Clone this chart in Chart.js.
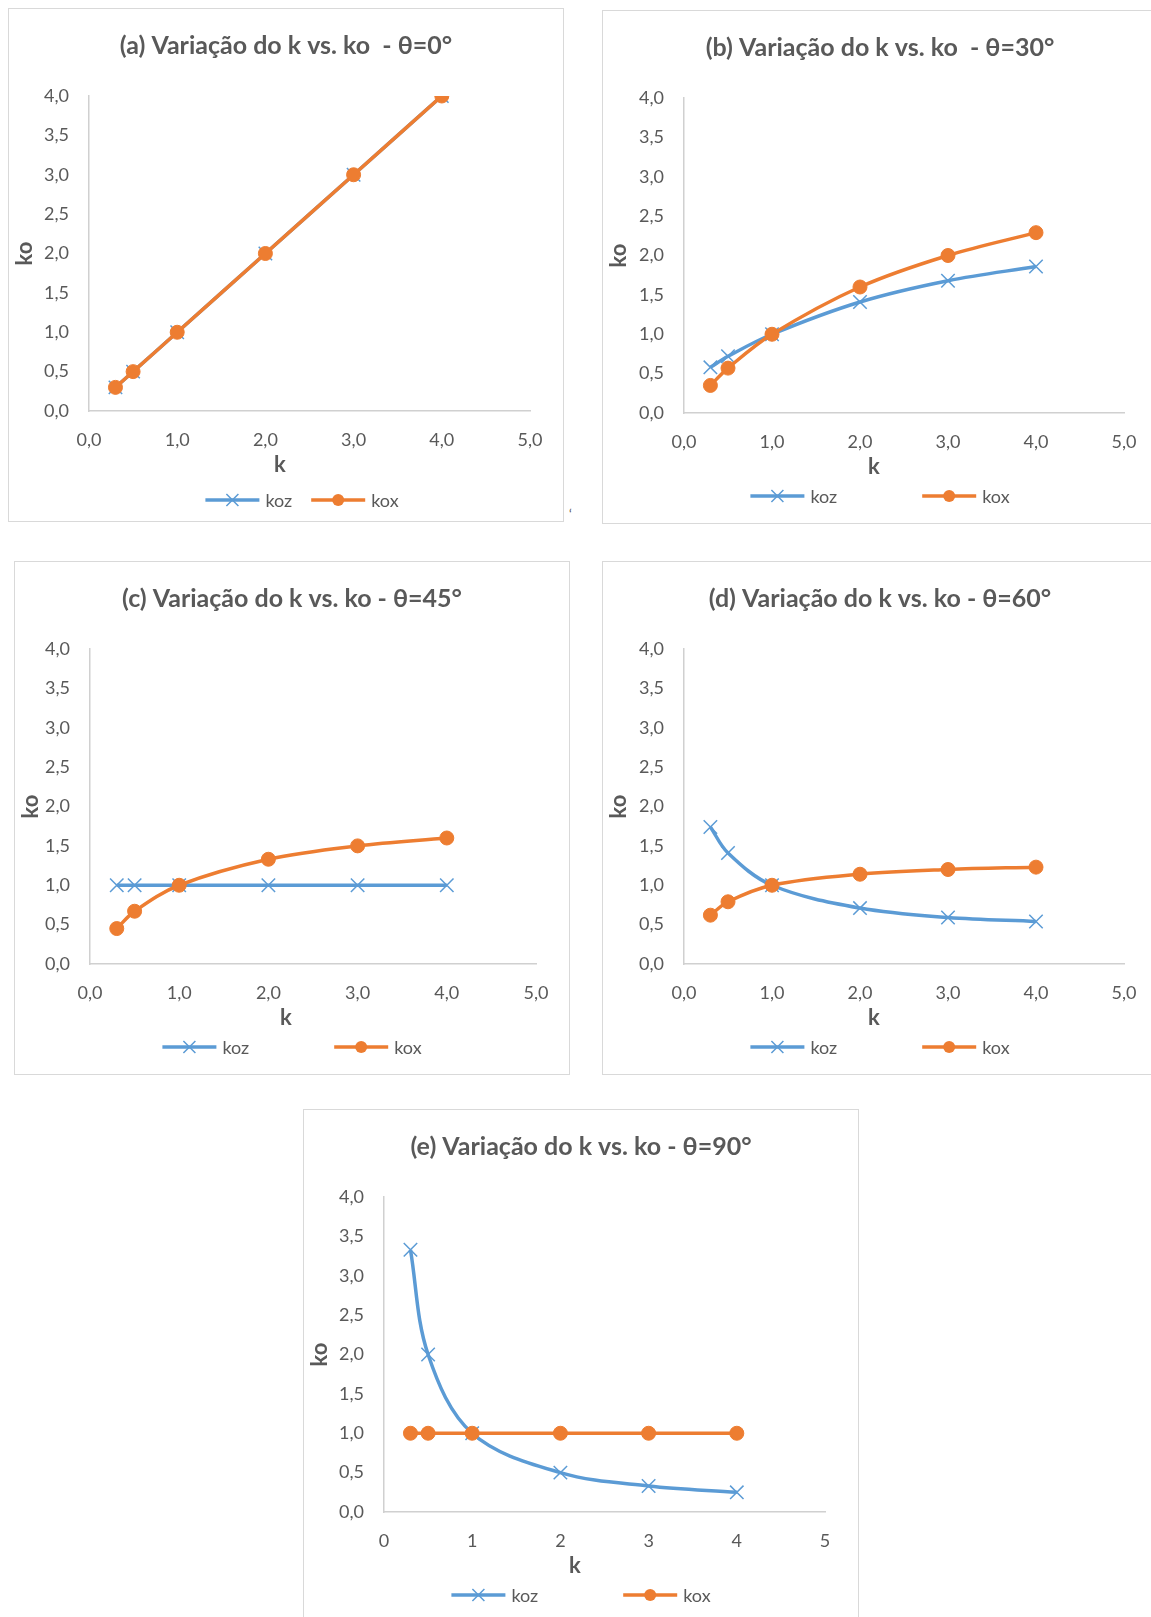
<!DOCTYPE html>
<html>
<head>
<meta charset="utf-8">
<script src="https://cdn.jsdelivr.net/npm/chart.js@4.4.1/dist/chart.umd.min.js"></script>
<style>
  body { margin: 0; background: #fff; width: 1151px; height: 1617px; overflow: hidden; position: relative; }
  .box { position: absolute; width: 556px; height: 514px; border: 1px solid #d9d9d9; box-sizing: border-box; background: #fff; }
  .box canvas { display: block; }
  .mark { position: absolute; left: 569px; top: 506px; font: 13px Lato; color: #595959; }
</style>
</head>
<body>
<div class="box" id="boxA" style="left:8px;top:8px"><canvas id="chartA" width="554" height="512"></canvas></div>
<div class="box" id="boxB" style="left:602px;top:10px"><canvas id="chartB" width="554" height="512"></canvas></div>
<div class="box" id="boxC" style="left:14px;top:561px"><canvas id="chartC" width="554" height="512"></canvas></div>
<div class="box" id="boxD" style="left:602px;top:561px"><canvas id="chartD" width="554" height="512"></canvas></div>
<div class="box" id="boxE" style="left:303px;top:1109px"><canvas id="chartE" width="554" height="512"></canvas></div>
<span class="mark">‘</span>
<script>
// k values (same for every chart)
const kValues = [0.3, 0.5, 1, 2, 3, 4];

// θ = 0°
const koz0 = [0.3, 0.5, 1.0, 2.0, 3.0, 4.0];
const kox0 = [0.3, 0.5, 1.0, 2.0, 3.0, 4.0];
// θ = 30°
const koz30 = [0.58, 0.72, 1.0, 1.41, 1.68, 1.86];
const kox30 = [0.35, 0.57, 1.0, 1.60, 2.0, 2.29];
// θ = 45°
const koz45 = [1.0, 1.0, 1.0, 1.0, 1.0, 1.0];
const kox45 = [0.45, 0.67, 1.0, 1.33, 1.5, 1.6];
// θ = 60°
const koz60 = [1.74, 1.41, 1.0, 0.71, 0.59, 0.54];
const kox60 = [0.62, 0.79, 1.0, 1.14, 1.2, 1.23];
// θ = 90°
const koz90 = [3.33, 2.0, 1.0, 0.5, 0.33, 0.25];
const kox90 = [1.0, 1.0, 1.0, 1.0, 1.0, 1.0];

const seriesNames = ['koz', 'kox'];
const xAxisTitle = 'k';
const yAxisTitle = 'ko';
const BLUE = '#5B9BD5';
const ORANGE = '#ED7D31';
const GREY = '#595959';

const comma = v => v.toFixed(1).replace('.', ',');

// Excel style legend (line with marker in the middle, then text) + x axis title
const excelLegend = {
    id: 'excelLegend',
    afterDraw(chart, args, opts) {
        const ctx = chart.ctx;
        const lineLen = 54, textGap = 6;
        ctx.save();

        // x axis title, Excel centres it a bit left of the plot centre
        ctx.font = 'bold 22px Lato';
        ctx.fillStyle = GREY;
        ctx.textAlign = 'center';
        ctx.textBaseline = 'middle';
        ctx.fillText(xAxisTitle, opts.titleX, opts.titleY);

        ctx.font = '18px Lato';
        const items = chart.data.datasets.map(ds => ({
            text: ds.label, color: ds.borderColor, style: ds.pointStyle,
            w: lineLen + textGap + ctx.measureText(ds.label).width
        }));
        const total = items.reduce((s, it) => s + it.w, 0) + opts.gap * (items.length - 1);
        let x = chart.width / 2 - total / 2 + opts.shift;
        const y = opts.y;
        items.forEach(it => {
            ctx.strokeStyle = it.color;
            ctx.lineWidth = 3.5;
            ctx.beginPath();
            ctx.moveTo(x, y);
            ctx.lineTo(x + lineLen, y);
            ctx.stroke();
            const cx = x + lineLen / 2;
            if (it.style === 'circle') {
                ctx.fillStyle = it.color;
                ctx.beginPath();
                ctx.arc(cx, y, 6, 0, Math.PI * 2);
                ctx.fill();
            } else {
                ctx.lineWidth = 1.5;
                ctx.beginPath();
                ctx.moveTo(cx - 6, y - 6); ctx.lineTo(cx + 6, y + 6);
                ctx.moveTo(cx - 6, y + 6); ctx.lineTo(cx + 6, y - 6);
                ctx.stroke();
            }
            ctx.fillStyle = GREY;
            ctx.textAlign = 'left';
            ctx.textBaseline = 'middle';
            ctx.fillText(it.text, x + lineLen + textGap, y + 1);
            x += it.w + opts.gap;
        });
        ctx.restore();
    }
};

function makeChart(id, cfg) {
    const toPoints = arr => kValues.map((k, i) => ({ x: k, y: arr[i] }));
    return new Chart(document.getElementById(id), {
        type: 'line',
        data: {
            datasets: [{
                label: seriesNames[0],
                data: toPoints(cfg.koz),
                borderColor: BLUE,
                backgroundColor: BLUE,
                borderWidth: 3.5,
                tension: 0.35,
                pointStyle: 'crossRot',
                pointRadius: 9.5,
                pointBorderWidth: 1.5,
                pointBorderColor: BLUE,
                order: 1
            }, {
                label: seriesNames[1],
                data: toPoints(cfg.kox),
                borderColor: ORANGE,
                backgroundColor: ORANGE,
                borderWidth: 3.5,
                tension: 0.35,
                pointStyle: 'circle',
                pointRadius: 7,
                pointBorderWidth: 1,
                pointBorderColor: ORANGE,
                order: 0
            }]
        },
        options: {
            responsive: false,
            animation: false,
            layout: { padding: { left: 0, right: 0, top: 0, bottom: 38 } },
            plugins: {
                legend: { display: false },
                tooltip: { enabled: false },
                title: {
                    display: true,
                    text: cfg.title,
                    color: GREY,
                    font: { family: 'Lato', size: 25, weight: 'bold', lineHeight: 1.2 },
                    padding: { top: 22, bottom: 35 }
                },
                excelLegend: { gap: cfg.legendGap, shift: cfg.legendShift, y: cfg.legendY, titleX: 271, titleY: 456 }
            },
            scales: {
                x: {
                    type: 'linear',
                    min: 0, max: 5,
                    afterFit: s => { s.height = 72; },
                    grid: { color: 'rgba(0,0,0,0)', drawTicks: false },
                    border: { display: true, color: '#d0d0d0', width: 1.5 },
                    ticks: {
                        stepSize: 1, padding: 18, color: GREY,
                        font: { family: 'Lato', size: 18 },
                        callback: v => cfg.xInt ? String(v) : comma(v)
                    }
                },
                y: {
                    min: 0, max: 4,
                    afterFit: s => { s.width = cfg.plotLeft; },
                    grid: { color: 'rgba(0,0,0,0)', drawTicks: false },
                    border: { display: true, color: '#d0d0d0', width: 1.5 },
                    ticks: {
                        stepSize: 0.5, padding: 20, color: GREY,
                        font: { family: 'Lato', size: 18 },
                        callback: v => comma(v)
                    },
                    title: {
                        display: true, text: yAxisTitle, color: GREY,
                        font: { family: 'Lato', size: 22, weight: 'bold', lineHeight: 1.2 },
                        padding: { top: 3, bottom: 0 }
                    }
                },
                // empty spacer on the right so the title stays centred on the whole chart
                yRight: {
                    position: 'right',
                    min: 0, max: 4,
                    afterFit: s => { s.width = 33; },
                    grid: { display: false, drawTicks: false },
                    border: { display: false },
                    ticks: { display: false }
                }
            }
        },
        plugins: [excelLegend]
    });
}

makeChart('chartA', { title: '(a) Variação do k vs. ko  - θ=0°', koz: koz0, kox: kox0,
    plotLeft: 80, xInt: false, legendGap: 19, legendShift: 16, legendY: 491 });
makeChart('chartB', { title: '(b) Variação do k vs. ko  - θ=30°', koz: koz30, kox: kox30,
    plotLeft: 81, xInt: false, legendGap: 85, legendShift: 0, legendY: 485 });
makeChart('chartC', { title: '(c) Variação do k vs. ko - θ=45°', koz: koz45, kox: kox45,
    plotLeft: 75, xInt: false, legendGap: 85, legendShift: 0, legendY: 485 });
makeChart('chartD', { title: '(d) Variação do k vs. ko - θ=60°', koz: koz60, kox: kox60,
    plotLeft: 81, xInt: false, legendGap: 85, legendShift: 0, legendY: 485 });
makeChart('chartE', { title: '(e) Variação do k vs. ko - θ=90°', koz: koz90, kox: kox90,
    plotLeft: 80, xInt: true, legendGap: 85, legendShift: 0, legendY: 485 });
</script>
</body>
</html>
